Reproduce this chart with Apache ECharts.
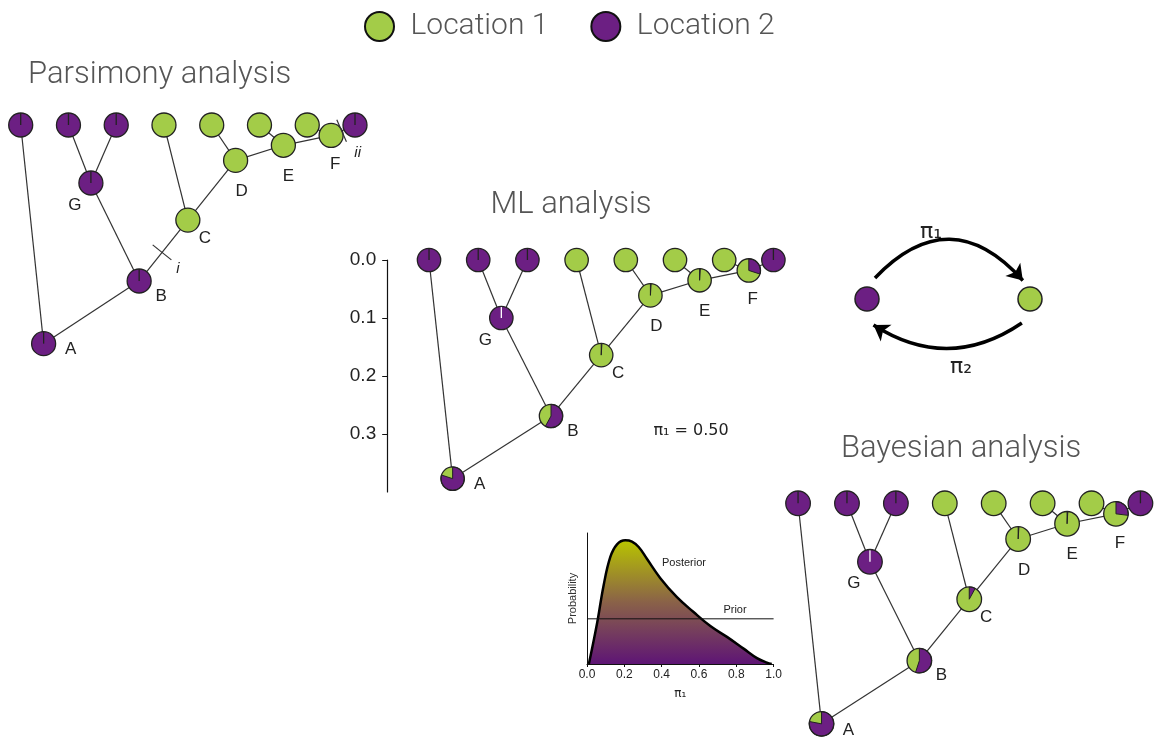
<!DOCTYPE html>
<html>
<head>
<meta charset="utf-8">
<title>Ancestral location reconstruction</title>
<script src="https://cdn.jsdelivr.net/npm/echarts@6/dist/echarts.min.js"></script>
<style>
html, body { margin: 0; padding: 0; background: #fff; }
#chart { width: 1160px; height: 740px; }
</style>
</head>
<body>
<div id="chart"></div>
<script>
// same tree in all three panels: 8 tips (0-7) and internal nodes A-G
const nodeNames = ['', '', '', '', '', '', '', '', 'A', 'B', 'C', 'D', 'E', 'F', 'G'];
const nodeX = [0, 1, 2, 3, 4, 5, 6, 7, 0.48, 2.48, 3.5, 4.5, 5.5, 6.5, 1.47];
const nodeDepth = [0, 0, 0, 0, 0, 0, 0, 0, 0.377, 0.269, 0.164, 0.061, 0.035, 0.018, 0.1];
const nodeParent = [8, 14, 14, 10, 11, 12, 13, 13, -1, 8, 9, 10, 11, 12, 9];

// share of Location 2 at every node
const parsimonyLoc2 = [1, 1, 1, 0, 0, 0, 0, 1, 1, 1, 0, 0, 0, 0, 1];
const mlLoc2 = [1, 1, 1, 0, 0, 0, 0, 1, 0.8, 0.58, 0.01, 0.01, 0.01, 0.3, 1];
const bayesLoc2 = [1, 1, 1, 0, 0, 0, 0, 1, 0.78, 0.55, 0.08, 0.01, 0.01, 0.27, 1];

// parsimony changes marked on branches
const changeNode = [10, 7];
const changeFrac = [0.47, 0.44];
const changeLabel = ['i', 'ii'];

const mlTicks = [0, 0.1, 0.2, 0.3];
const mlPi1 = 0.50;

// posterior of pi1 (prior is flat)
const posteriorPi = [0.01, 0.054, 0.089, 0.125, 0.161, 0.205, 0.241, 0.277, 0.321, 0.393, 0.482, 0.571, 0.661, 0.75, 0.839, 0.911, 0.964, 0.99];
const posteriorDens = [0, 0.9, 1.74, 2.37, 2.65, 2.74, 2.71, 2.59, 2.33, 1.9, 1.48, 1.15, 0.84, 0.6, 0.34, 0.13, 0.03, 0];
const priorDens = 1;

// two-state transition diagram
const stateX = [0, 1];
const transFrom = [[0.049, 0.42], [0.95, -0.48]];
const transTo = [[0.956, 0.37], [0.04, -0.52]];

const GREEN = '#a3cc48';
const PURPLE = '#6c1f83';
const INK = '#222';
const SANS = '"Liberation Sans", Arial, sans-serif';
const LIGHT = 'Roboto, "Open Sans", sans-serif';

// label placement next to internal nodes
const labelOffset = { A: [27, 6], B: [22, 15], C: [17, 18], D: [6, 31], E: [5, 31], F: [4, 29], G: [-16, 22] };

const nodeRows = loc2 => nodeX.map((x, i) => [x, nodeDepth[i], loc2[i], i]);
const edgeRows = () => nodeParent.map((p, i) => p < 0 ? null :
    [nodeX[i], nodeDepth[i], nodeX[p], nodeDepth[p]]).filter(Boolean);

function renderEdge(params, api) {
    const a = api.coord([api.value(0), api.value(1)]);
    const b = api.coord([api.value(2), api.value(3)]);
    return {
        type: 'line',
        shape: { x1: a[0], y1: a[1], x2: b[0], y2: b[1] },
        style: { stroke: '#333', lineWidth: 1.2 }
    };
}

function pieRenderer(r, whiteTick) {
    return function (params, api) {
        const c = api.coord([api.value(0), api.value(1)]);
        const p2 = api.value(2);
        const name = nodeNames[api.value(3)];
        const top = -Math.PI / 2;
        const kids = [{
            type: 'circle',
            shape: { cx: c[0], cy: c[1], r: r },
            style: { fill: p2 >= 1 ? PURPLE : GREEN }
        }];
        if (p2 > 0 && p2 < 1) {
            kids.push({
                type: 'sector',
                shape: { cx: c[0], cy: c[1], r0: 0, r: r, startAngle: top, endAngle: top + p2 * Math.PI * 2, clockwise: true },
                style: { fill: PURPLE, stroke: INK, lineWidth: 1 }
            });
        }
        if (p2 >= 1) {
            kids.push({
                type: 'line',
                shape: { x1: c[0], y1: c[1], x2: c[0], y2: c[1] - r },
                style: { stroke: whiteTick && name === 'G' ? '#fff' : INK, lineWidth: 1.3 }
            });
        }
        kids.push({
            type: 'circle',
            shape: { cx: c[0], cy: c[1], r: r },
            style: { fill: null, stroke: INK, lineWidth: 1.3 }
        });
        if (name) {
            const o = labelOffset[name];
            kids.push({
                type: 'text',
                x: c[0] + o[0], y: c[1] + o[1],
                style: { text: name, fontSize: 17, fontFamily: SANS, fill: INK, align: 'center', verticalAlign: 'middle' }
            });
        }
        return { type: 'group', children: kids };
    };
}

function renderChange(params, api) {
    const i = api.value(0);
    const f = api.value(1);
    const p = nodeParent[i];
    const a = api.coord([nodeX[p], nodeDepth[p]]);
    const b = api.coord([nodeX[i], nodeDepth[i]]);
    const mx = a[0] + (b[0] - a[0]) * f, my = a[1] + (b[1] - a[1]) * f;
    const len = Math.hypot(b[0] - a[0], b[1] - a[1]);
    const nx = -(b[1] - a[1]) / len, ny = (b[0] - a[0]) / len;
    const h = 12;
    return {
        type: 'group',
        children: [{
            type: 'line',
            shape: { x1: mx - nx * h, y1: my - ny * h, x2: mx + nx * h, y2: my + ny * h },
            style: { stroke: '#333', lineWidth: 1.2 }
        }, {
            type: 'text',
            x: mx + 16, y: my + (i === 7 ? 22 : 16),
            style: { text: changeLabel[params.dataIndex], fontSize: 15, fontStyle: 'italic', fontFamily: SANS, fill: INK, align: 'center', verticalAlign: 'middle' }
        }]
    };
}

function treeSeries(idx, loc2, r, whiteTick) {
    return [{
        type: 'custom', xAxisIndex: idx, yAxisIndex: idx, z: 1,
        renderItem: renderEdge, data: edgeRows(), silent: true
    }, {
        type: 'custom', xAxisIndex: idx, yAxisIndex: idx, z: 2,
        renderItem: pieRenderer(r, whiteTick), data: nodeRows(loc2), silent: true
    }];
}

const hidden = { show: false };
const titleStyle = { fontSize: 31, fontFamily: LIGHT, fontWeight: 300, fill: '#555', verticalAlign: 'middle' };
const piStyle = { fontFamily: '"DejaVu Sans", sans-serif', fill: INK, align: 'center', verticalAlign: 'middle' };
const chart = echarts.init(document.getElementById('chart'));

chart.setOption({
    animation: false,
    backgroundColor: '#fff',
    legend: {
        data: ['Location 1', 'Location 2'],
        left: 364, top: 11, padding: 0,
        icon: 'circle', itemWidth: 52, itemHeight: 29, itemGap: 42,
        selectedMode: false,
        itemStyle: { borderColor: '#111', borderWidth: 2 },
        textStyle: { fontSize: 30, color: '#555', fontFamily: LIGHT, fontWeight: 300 }
    },
    grid: [
        { left: 1.6, top: 125, width: 372.5, height: 232 },      // parsimony
        { left: 387.2, top: 260, width: 435.4, height: 232 },    // ML
        { left: 778.5, top: 503.3, width: 386, height: 234 },    // Bayesian
        { left: 867, top: 249, width: 163, height: 100 },        // transitions
        { left: 587, top: 533, width: 186.6, height: 131 }       // posterior
    ],
    xAxis: [
        { gridIndex: 0, type: 'value', min: -0.4, max: 7.4, ...hidden },
        { gridIndex: 1, type: 'value', min: -0.85, max: 8, ...hidden },
        { gridIndex: 2, type: 'value', min: -0.4, max: 7.4, ...hidden },
        { gridIndex: 3, type: 'value', min: 0, max: 1, ...hidden },
        {
            gridIndex: 4, type: 'value', min: 0, max: 1, interval: 0.2,
            axisLine: { onZero: false, lineStyle: { color: '#111', width: 1 } },
            axisTick: { show: true, length: 3, lineStyle: { color: '#111' } },
            axisLabel: { formatter: v => v.toFixed(1), fontSize: 12, color: INK, margin: 5, fontFamily: SANS },
            splitLine: { show: false },
            name: 'π₁', nameLocation: 'middle', nameGap: 24,
            nameTextStyle: { fontSize: 12, color: INK, fontFamily: '"DejaVu Sans", sans-serif' }
        }
    ],
    yAxis: [
        { gridIndex: 0, type: 'value', inverse: true, min: 0, max: 0.4, ...hidden },
        {
            gridIndex: 1, type: 'value', inverse: true, min: 0, max: 0.4, interval: 0.1,
            axisLine: { show: true, onZero: false, lineStyle: { color: '#111', width: 1.2 } },
            axisTick: { show: true, length: 5, lineStyle: { color: '#111' }, customValues: mlTicks },
            axisLabel: { customValues: mlTicks, formatter: v => v.toFixed(1), fontSize: 19, color: INK, margin: 11, fontFamily: SANS },
            splitLine: { show: false }
        },
        { gridIndex: 2, type: 'value', inverse: true, min: 0, max: 0.4, ...hidden },
        { gridIndex: 3, type: 'value', min: -1, max: 1, ...hidden },
        {
            gridIndex: 4, type: 'value', min: 0, max: 2.9,
            axisLine: { show: true, onZero: false, lineStyle: { color: '#111', width: 1 } },
            axisTick: { show: false }, axisLabel: { show: false }, splitLine: { show: false },
            name: 'Probability', nameLocation: 'middle', nameGap: 9,
            nameTextStyle: { fontSize: 11, color: '#333', fontFamily: SANS }
        }
    ],
    graphic: [
        { type: 'text', x: 28, y: 75, style: { text: 'Parsimony analysis', ...titleStyle } },
        { type: 'text', x: 571, y: 205, style: { text: 'ML analysis', ...titleStyle, align: 'center' } },
        { type: 'text', x: 961, y: 449, style: { text: 'Bayesian analysis', ...titleStyle, align: 'center' } },
        { type: 'text', x: 931, y: 232, style: { text: 'π₁', fontSize: 22, ...piStyle } },
        { type: 'text', x: 961, y: 367, style: { text: 'π₂', fontSize: 22, ...piStyle } },
        { type: 'text', x: 691, y: 431, style: { text: 'π₁ = ' + mlPi1.toFixed(2), fontSize: 16, ...piStyle } },
        { type: 'text', x: 684, y: 563, style: { text: 'Posterior', fontSize: 11, fontFamily: SANS, fill: INK, align: 'center', verticalAlign: 'middle' } },
        { type: 'text', x: 735, y: 610, style: { text: 'Prior', fontSize: 11, fontFamily: SANS, fill: INK, align: 'center', verticalAlign: 'middle' } }
    ],
    series: [
        ...treeSeries(0, parsimonyLoc2, 12, false),
        ...treeSeries(1, mlLoc2, 11.7, true),
        ...treeSeries(2, bayesLoc2, 12.3, true),
        {
            type: 'custom', xAxisIndex: 0, yAxisIndex: 0, z: 3, silent: true,
            renderItem: renderChange,
            data: changeNode.map((n, i) => [n, changeFrac[i]])
        },
        {
            name: 'Location 2', type: 'scatter', xAxisIndex: 3, yAxisIndex: 3,
            data: [[stateX[0], 0]], symbolSize: 24, silent: true,
            itemStyle: { color: PURPLE, borderColor: INK, borderWidth: 1.5, opacity: 1 }
        },
        {
            name: 'Location 1', type: 'scatter', xAxisIndex: 3, yAxisIndex: 3,
            data: [[stateX[1], 0]], symbolSize: 24, silent: true,
            itemStyle: { color: GREEN, borderColor: INK, borderWidth: 1.5, opacity: 1 }
        },
        {
            type: 'lines', coordinateSystem: 'cartesian2d', xAxisIndex: 3, yAxisIndex: 3,
            symbol: ['none', 'arrow'], symbolSize: 15, silent: true, clip: false,
            lineStyle: { color: '#000', width: 3.5, opacity: 1 },
            data: [
                { coords: [transFrom[0], transTo[0]], lineStyle: { curveness: 0.54 } },
                { coords: [transFrom[1], transTo[1]], lineStyle: { curveness: 0.33 } }
            ]
        },
        {
            type: 'line', xAxisIndex: 4, yAxisIndex: 4, silent: true,
            data: posteriorPi.map((p, i) => [p, posteriorDens[i]]),
            smooth: 0.4, showSymbol: false, z: 3,
            lineStyle: { color: '#000', width: 2.5 },
            areaStyle: {
                opacity: 1,
                color: new echarts.graphic.LinearGradient(0, 0, 0, 1, [
                    { offset: 0, color: '#b8c400' },
                    { offset: 0.5, color: '#8a6248' },
                    { offset: 1, color: '#5e1575' }
                ])
            }
        },
        {
            type: 'line', xAxisIndex: 4, yAxisIndex: 4, silent: true, z: 4,
            data: [[0, priorDens], [1, priorDens]],
            showSymbol: false,
            lineStyle: { color: '#111', width: 1 }
        }
    ]
});
</script>
</body>
</html>
